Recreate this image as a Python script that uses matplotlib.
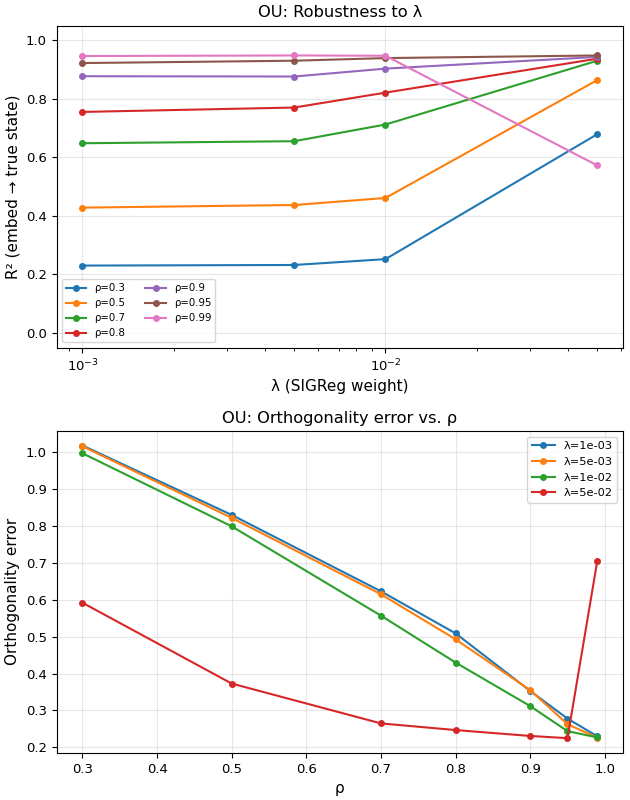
import matplotlib
matplotlib.use('Agg')
from matplotlib import pyplot as plt
import numpy as np

lambdas = [1e-3, 5e-3, 1e-2, 5e-2]
rhos = [0.3, 0.5, 0.7, 0.8, 0.9, 0.95, 0.99]

# R^2 per rho (rows) across lambdas (cols)
r2 = [
    [0.230, 0.232, 0.252, 0.679],
    [0.428, 0.437, 0.461, 0.864],
    [0.648, 0.655, 0.712, 0.930],
    [0.755, 0.770, 0.821, 0.937],
    [0.877, 0.876, 0.903, 0.943],
    [0.922, 0.930, 0.939, 0.948],
    [0.946, 0.948, 0.947, 0.572],
]

# orthogonality error per lambda (rows) across rhos (cols)
orth = [
    [1.018, 0.830, 0.623, 0.509, 0.353, 0.278, 0.230],
    [1.016, 0.822, 0.615, 0.493, 0.355, 0.263, 0.226],
    [0.997, 0.799, 0.557, 0.430, 0.312, 0.244, 0.227],
    [0.592, 0.373, 0.265, 0.247, 0.231, 0.225, 0.706],
]

fig, (ax1, ax2) = plt.subplots(2, 1, figsize=(6.3, 8), dpi=100)

for rho, vals in zip(rhos, r2):
    ax1.plot(lambdas, vals, 'o-', ms=4, label=f'ρ={rho}')
ax1.set_xscale('log')
ax1.set_ylim(-0.05, 1.05)
ax1.set_xlabel('λ (SIGReg weight)', fontsize=11)
ax1.set_ylabel('R² (embed → true state)', fontsize=11)
ax1.set_title('OU: Robustness to λ', fontsize=11.7)
ax1.tick_params(labelsize=9.5)
ax1.grid(True, alpha=0.3)
ax1.legend(ncol=2, fontsize=7.3, loc='lower left')

for lam, vals in zip(lambdas, orth):
    ax2.plot(rhos, vals, 'o-', ms=4, label=f'λ={lam:.0e}')
ax2.set_xlabel('ρ', fontsize=11)
ax2.set_ylabel('Orthogonality error', fontsize=11)
ax2.set_title('OU: Orthogonality error vs. ρ', fontsize=11.7)
ax2.tick_params(labelsize=9.5)
ax2.grid(True, alpha=0.3)
ax2.legend(fontsize=8.2)

plt.subplots_adjust(left=0.090, right=0.989, top=0.968, bottom=0.059, hspace=0.259)
plt.savefig('out.png')
